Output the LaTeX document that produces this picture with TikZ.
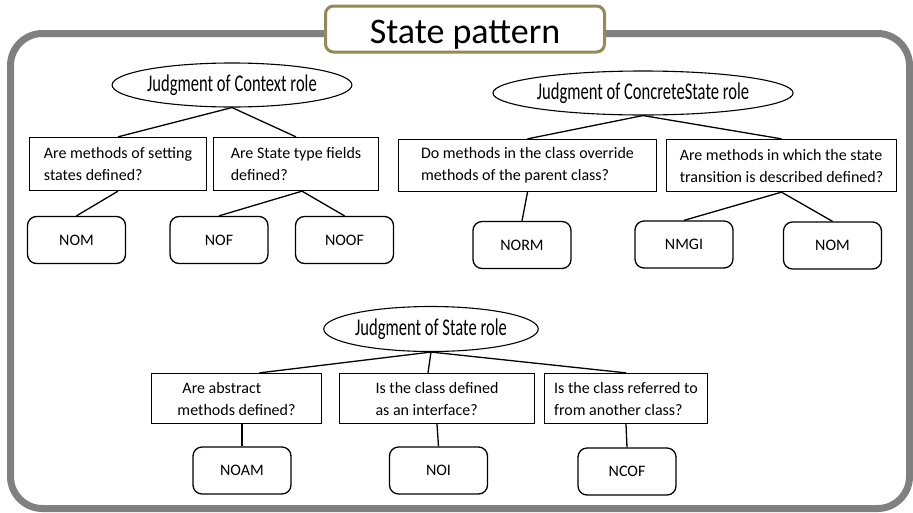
\documentclass[tikz,border=0pt]{standalone}
\usepackage{fontspec}
\setmainfont{Carlito}
\usetikzlibrary{shapes.geometric}
\definecolor{framegray}{HTML}{808080}
\definecolor{titleolive}{HTML}{948A54}
\begin{document}
\begin{tikzpicture}[x=1pt,y=-1pt,
  qbox/.style={draw, line width=1.3pt, rectangle, inner sep=0pt, align=left,
    font=\fontsize{16}{22}\selectfont},
  leaf/.style={draw, line width=1.3pt, rounded corners=9pt, inner sep=0pt,
    minimum width=98pt, minimum height=47pt, font=\fontsize{16}{19}\selectfont},
  judge/.style={draw, line width=1.1pt, ellipse, inner sep=0pt,
    font=\fontsize{24}{24}\selectfont},
  link/.style={line width=1.3pt}]
\useasboundingbox (0,0) rectangle (913,512);

% outer frame and title plate
\draw[framegray, line width=7pt, rounded corners=32pt] (10.5,33.5) rectangle (909.5,508.5);
\node[draw=titleolive, line width=3pt, fill=white, rounded corners=8pt,
  minimum width=279pt, minimum height=46pt, inner sep=0pt,
  text height=28pt, text depth=0pt, font=\fontsize{36}{36}\selectfont]
  (title) at (465,29) {State pattern};

% Context role
\node[judge, minimum width=212pt, minimum height=44pt] (e1) at (232,85)
  {\scalebox{0.69}[1]{Judgment of Context role}};
\node[qbox, minimum width=177pt, minimum height=53pt] (b1) at (118,164)
  {Are methods of setting\\states defined?};
\node[qbox, minimum width=165pt, minimum height=53pt] (b2) at (296,164)
  {Are State type fields\\defined?};
\node[leaf] (nom1) at (76.5,240) {NOM};
\node[leaf] (nof) at (219,240) {NOF};
\node[leaf] (noof) at (344.5,240) {NOOF};

% ConcreteState role
\node[judge, minimum width=236pt, minimum height=44pt] (e2) at (643,93)
  {\scalebox{0.69}[1]{Judgment of ConcreteState role}};
\node[qbox, minimum width=258pt, minimum height=52pt] (b3) at (527.5,165.5)
  {Do methods in the class override\\methods of the parent class?};
\node[qbox, minimum width=230pt, minimum height=52pt] (b4) at (781.5,165.5)
  {Are methods in which the state\\transition is described defined?};
\node[leaf] (norm) at (522,245) {NORM};
\node[leaf] (nmgi) at (684,244.5) {NMGI};
\node[leaf] (nom2) at (832.5,245.5) {NOM};

% State role
\node[judge, minimum width=188pt, minimum height=45pt] (e3) at (431,329)
  {\scalebox{0.69}[1]{Judgment of State role}};
\node[qbox, minimum width=170pt, minimum height=50pt] (b5) at (236.5,398.5)
  {\hspace*{5pt}Are abstract\\methods defined?};
\node[qbox, minimum width=195pt, minimum height=50pt] (b6) at (437,398.5)
  {Is the class defined\\as an interface?};
\node[qbox, minimum width=163pt, minimum height=50pt] (b7) at (626,398.5)
  {Is the class referred to\\from another class?};
\node[leaf] (noam) at (242,470.5) {NOAM};
\node[leaf] (noi) at (438.5,470.5) {NOI};
\node[leaf] (ncof) at (627,471.5) {NCOF};

% connectors
\draw[link] (e1.south) -- (b1.north);
\draw[link] (e1.south) -- (b2.north);
\draw[link] (b1.south) -- (nom1.north);
\draw[link] ([xshift=6pt]b2.south) -- (nof.north);
\draw[link] ([xshift=6pt]b2.south) -- (noof.north);
\draw[link] (e2.south) -- (b3.north);
\draw[link] (e2.south) -- (b4.north);
\draw[link] (b3.south) -- (norm.north);
\draw[link] (b4.south) -- (nmgi.north);
\draw[link] (b4.south) -- (nom2.north);
\draw[link] (e3.south) -- ([xshift=23pt]b5.north);
\draw[link] (e3.south) -- ([xshift=-9pt]b6.north);
\draw[link] (e3.south) -- (b7.north);
\draw[link] ([xshift=5.5pt]b5.south) -- (noam.north);
\draw[link] (b6.south) -- (noi.north);
\draw[link] (b7.south) -- (ncof.north);
\end{tikzpicture}
\end{document}
